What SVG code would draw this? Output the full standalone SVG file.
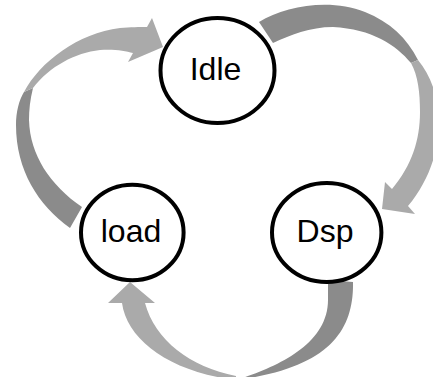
<svg xmlns="http://www.w3.org/2000/svg" width="433" height="377" viewBox="0 0 433 377">
<style>
.dark{fill:#8b8b8b}
.light{fill:#aaaaaa}
.node ellipse{fill:#fff;stroke:#000;stroke-width:4}
.node text{font-family:"Liberation Sans",Arial,sans-serif;font-size:32px;fill:#000;text-anchor:middle}
</style>
<rect width="433" height="377" fill="#fff"/>
<g id="connectors">
  <g id="idle-to-dsp">
    <path class="dark" d="M259,22 C285,6 330,-2 365,12 C390,22 407,38 418,60 L411,63 C396,45 372,29 333,27 C310,27 290,35 273,43 Z"/>
    <path class="light" d="M411,63 C418,76 420,92 420,112 C420,140 412,165 392,189 L385,182 L382,209 L415,214 L408,206 C428,182 439,152 439,122 C439,98 431,76 418,60 Z"/>
  </g>
  <g id="load-to-idle">
    <path class="dark" d="M70,228 C38,205 16,170 16,125 C16,112 19,100 24,92 L33,88 C30,100 29,110 29,120 C30,155 50,185 82,207 Z"/>
    <path class="light" d="M24,92 C40,62 78,33 120,28 C130,27 140,27 147,27 L152,18 L163,47 L128,62 L133,53 C125,51 115,49 100,50 C75,53 50,66 33,88 Z"/>
  </g>
  <g id="dsp-to-load">
    <path class="dark" d="M353,282 C354,330 330,368 236,380 C275,368 328,345 328,300 L328,280 Z"/>
    <path class="light" d="M236,380 C170,372 127,340 122,303 L108,303 L130,282 L155,303 L145,303 C155,340 190,367 236,376 Z"/>
  </g>
</g>
<g id="idle" class="node">
  <ellipse cx="217.5" cy="70.5" rx="57" ry="52.5"/>
  <text x="215.5" y="80">Idle</text>
</g>
<g id="load" class="node">
  <ellipse cx="132.3" cy="232.5" rx="51.3" ry="47.8"/>
  <text x="131" y="242">load</text>
</g>
<g id="dsp" class="node">
  <ellipse cx="326.7" cy="232.5" rx="54.7" ry="49.5"/>
  <text x="325" y="242">Dsp</text>
</g>
</svg>
